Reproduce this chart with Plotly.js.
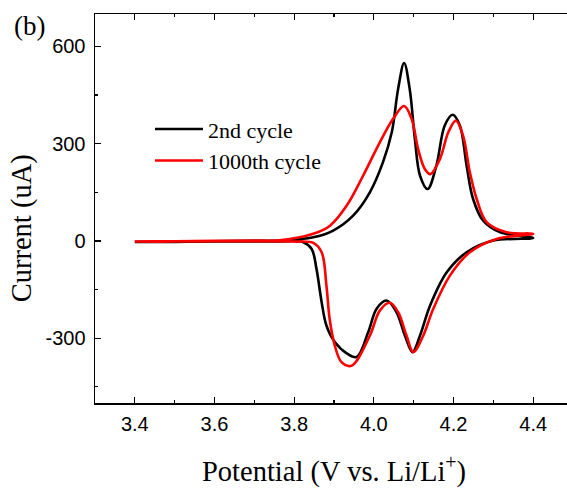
<!DOCTYPE html>
<html>
<head>
<meta charset="utf-8">
<script src="https://cdn.plot.ly/plotly-3.0.1.min.js"></script>
<style>
html,body{margin:0;padding:0;overflow:hidden;background:#fff;}
#chart{width:580px;height:488px;}
</style>
</head>
<body>
<div id="chart"></div>
<script>
// 2nd cycle: anodic sweep (3.4 -> 4.4) then cathodic sweep (4.4 -> 3.4)
const cycle2_potential = [3.40,3.50,3.60,3.70,3.764,3.848,3.898,3.948,3.990,4.023,4.045,4.061,4.076,4.090,4.103,4.116,4.135,4.157,4.178,4.198,4.216,4.233,4.249,4.274,4.316,4.40,
  4.30,4.233,4.183,4.141,4.116,4.097,4.078,4.057,4.032,4.007,3.986,3.957,3.932,3.902,3.881,3.869,3.856,3.844,3.823,3.75,3.60,3.50,3.40];
const cycle2_current = [-3,-2,-1,0,1,11,32,78,150,243,335,469,549,469,315,201,160,232,356,389,356,232,130,63,27,9,
  1,-35,-97,-200,-292,-343,-292,-220,-184,-209,-281,-358,-347,-312,-261,-189,-86,-25,-4,-2,-2,-3,-3];

// 1000th cycle
const cycle1000_potential = [3.40,3.50,3.60,3.70,3.764,3.848,3.890,3.932,3.973,4.015,4.048,4.076,4.095,4.111,4.128,4.142,4.166,4.187,4.206,4.224,4.241,4.258,4.283,4.333,4.40,
  4.308,4.241,4.191,4.149,4.124,4.099,4.082,4.061,4.040,4.015,3.990,3.944,3.919,3.902,3.889,3.881,3.869,3.848,3.80,3.70,3.60,3.50,3.40];
const cycle1000_current = [-2,-1,0,1,2,22,47,109,201,304,376,416,376,284,222,206,253,335,371,325,212,130,58,27,22,
  6,-35,-107,-210,-292,-343,-292,-220,-191,-215,-292,-385,-374,-323,-240,-138,-35,-6,-2,-1,-1,-2,-2];

const seriesNames = ['2nd cycle','1000th cycle'];
const seriesColors = ['#000000','#ff0000'];
const xTickVals = [3.4,3.6,3.8,4.0,4.2,4.4];
const xTickText = ['3.4','3.6','3.8','4.0','4.2','4.4'];
const yTickVals = [-300,0,300,600];
const yTickText = ['-300','0','300','600'];

const traces = [
  {x: cycle2_potential, y: cycle2_current, name: seriesNames[0], type:'scatter', mode:'lines',
   line:{color:seriesColors[0], width:2.6, shape:'spline', smoothing:1}},
  {x: cycle1000_potential, y: cycle1000_current, name: seriesNames[1], type:'scatter', mode:'lines',
   line:{color:seriesColors[1], width:2.6, shape:'spline', smoothing:1}}
];

const axisCommon = {
  showline:true, linecolor:'#000', linewidth:1.5, mirror:'ticks',
  ticks:'inside', ticklen:6, tickwidth:1.3, tickcolor:'#000',
  showgrid:false, zeroline:false,
  tickfont:{family:'Liberation Sans, Arial, sans-serif', size:20, color:'#000'}
};

const serif = 'Liberation Serif, Times New Roman, serif';

const layout = {
  width:580, height:488,
  margin:{l:95, r:7, t:14, b:85},
  paper_bgcolor:'#fff', plot_bgcolor:'#fff',
  showlegend:true,
  legend:{x:0.115, y:0.758, xanchor:'left', yanchor:'top', bgcolor:'rgba(0,0,0,0)',
    borderwidth:0, itemwidth:48, font:{family:serif, size:22, color:'#000'}},
  xaxis: Object.assign({}, axisCommon, {
    range:[3.3, 4.5], tickvals:xTickVals, ticktext:xTickText, ticklabelstandoff:2,
    minor:{ticks:'inside', ticklen:3, tickwidth:1.2, tickcolor:'#000', dtick:0.1, tick0:3.3}
  }),
  yaxis: Object.assign({}, axisCommon, {
    range:[-500, 700], tickvals:yTickVals, ticktext:yTickText, ticklabelstandoff:4,
    minor:{ticks:'inside', ticklen:3, tickwidth:1.2, tickcolor:'#000', dtick:150, tick0:-450}
  }),
  annotations:[
    {text:'Potential (V vs. Li/Li<sup>+</sup>)', xref:'paper', yref:'paper', x:0.5, y:-0.172,
     xanchor:'center', yanchor:'middle', showarrow:false,
     font:{family:serif, size:28.5, color:'#000'}},
    {text:'Current (uA)', xref:'paper', yref:'paper', x:-0.152, y:0.45,
     xanchor:'center', yanchor:'middle', textangle:-90, showarrow:false,
     font:{family:serif, size:28.5, color:'#000'}},
    {text:'(b)', xref:'paper', yref:'paper', x:-0.173, y:1.012,
     xanchor:'left', yanchor:'top', showarrow:false,
     font:{family:serif, size:27, color:'#000'}}
  ]
};

Plotly.newPlot('chart', traces, layout, {displayModeBar:false, staticPlot:true});
</script>
</body>
</html>
